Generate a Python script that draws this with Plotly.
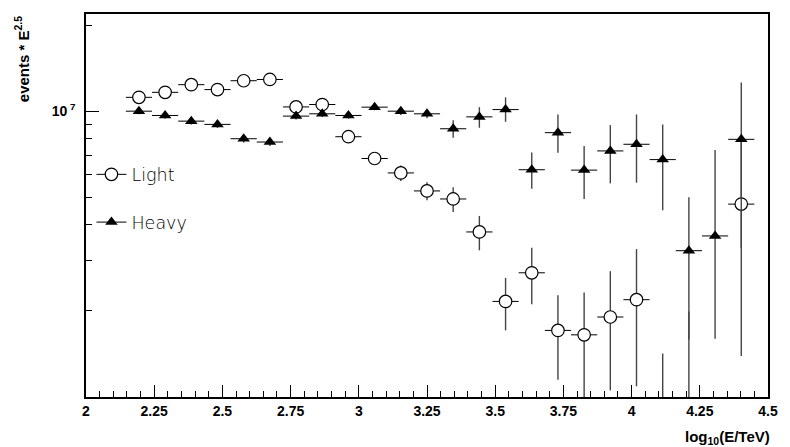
import plotly.graph_objects as go

# bin centres, log10(E/TeV)
x_centers = [2.194, 2.290, 2.386, 2.482, 2.578, 2.674, 2.770, 2.866, 2.962, 3.058, 3.154, 3.250,
             3.346, 3.442, 3.538, 3.634, 3.730, 3.826, 3.922, 4.018, 4.114, 4.210, 4.306, 4.402]
x_halfwidth = [0.048] * 24

# events * E^2.5 (units of 1e6)
light_vals = [11.18, 11.64, 12.38, 11.90, 12.78, 12.91, 10.35, 10.55, 8.14, 6.83, 6.08, 5.26,
              4.93, 3.78, 2.16, 2.72, 1.71, 1.65, 1.905, 2.19, 0.50, 0.60, None, 4.73]
light_err_hi = [0.25, 0.25, 0.25, 0.25, 0.25, 0.25, 0.25, 0.25, 0.30, 0.30, 0.38, 0.38,
                0.49, 0.52, 0.45, 0.61, 0.56, 0.67, 0.85, 1.10, 0.92, 1.39, None, 3.34]
light_err_lo = [0.25, 0.25, 0.25, 0.25, 0.25, 0.25, 0.25, 0.25, 0.30, 0.30, 0.38, 0.38,
                0.49, 0.52, 0.45, 0.61, 0.56, 0.67, 0.85, 1.10, 0.45, 0.55, None, 3.34]

heavy_vals = [10.0, 9.66, 9.23, 8.99, 8.01, 7.80, 9.61, 9.79, 9.66, 10.33, 10.0, 9.79,
              8.68, 9.55, 10.13, 6.24, 8.41, 6.22, 7.26, 7.66, 6.77, 3.25, 3.66, 7.97]
heavy_err_hi = [0.25, 0.25, 0.25, 0.25, 0.25, 0.25, 0.25, 0.25, 0.25, 0.25, 0.30, 0.35,
                0.62, 0.78, 1.05, 0.93, 1.33, 1.34, 1.68, 2.08, 2.22, 1.75, 3.66, 4.64]
heavy_err_lo = [0.25, 0.25, 0.25, 0.25, 0.25, 0.25, 0.25, 0.25, 0.25, 0.25, 0.30, 0.35,
                0.60, 0.80, 0.95, 0.89, 1.25, 1.29, 1.67, 2.04, 2.27, 1.66, 2.06, 4.64]

x_tick_vals = [2.0, 2.25, 2.5, 2.75, 3.0, 3.25, 3.5, 3.75, 4.0, 4.25, 4.5]
x_tick_text = ["2", "2.25", "2.5", "2.75", "3", "3.25", "3.5", "3.75", "4", "4.25", "4.5"]
y_major_vals = [1e7]
y_major_text = ["10<sup> 7</sup>"]
y_minor_vals = [2e6, 3e6, 4e6, 5e6, 6e6, 7e6, 8e6, 9e6, 2e7]

SCALE = 1e6


def scale(v):
    return [None if a is None else a * SCALE for a in v]


fig = go.Figure()

fig.add_trace(go.Scatter(
    x=x_centers, y=scale(light_vals), mode="markers", name="Light", showlegend=False,
    marker=dict(symbol="circle", size=12.5, color="white", line=dict(color="black", width=1.2)),
    error_x=dict(type="data", array=x_halfwidth, color="black", thickness=1, width=0),
    error_y=dict(type="data", symmetric=False, array=scale(light_err_hi), arrayminus=scale(light_err_lo),
                 color="#444444", thickness=1.4, width=0),
))
fig.add_trace(go.Scatter(
    x=x_centers, y=scale(heavy_vals), mode="markers", name="Heavy", showlegend=False,
    marker=dict(symbol="triangle-up", size=11, color="black", line=dict(color="black", width=0)),
    error_x=dict(type="data", array=x_halfwidth, color="black", thickness=1, width=0),
    error_y=dict(type="data", symmetric=False, array=scale(heavy_err_hi), arrayminus=scale(heavy_err_lo),
                 color="#444444", thickness=1.4, width=0),
))

# legend entries
fig.add_trace(go.Scatter(
    x=[None], y=[None], mode="lines+markers", name="Light", legendgroup="a",
    marker=dict(symbol="circle", size=12.5, color="white", line=dict(color="black", width=1.2)),
    line=dict(color="black", width=1),
))
fig.add_trace(go.Scatter(
    x=[None], y=[None], mode="lines+markers", name="Heavy", legendgroup="b",
    marker=dict(symbol="triangle-up", size=11, color="black"),
    line=dict(color="black", width=1),
))

fig.update_layout(
    width=790, height=447,
    margin=dict(l=86, r=18, t=12, b=50),
    paper_bgcolor="white", plot_bgcolor="white",
    font=dict(family="Liberation Sans", color="black"),
    legend=dict(x=0.008, y=0.628, xanchor="left", yanchor="top", bgcolor="rgba(0,0,0,0)",
                font=dict(family="DejaVu Sans", size=17.5, weight=200, color="black"), tracegroupgap=22,
                traceorder="grouped", itemwidth=30),
    xaxis=dict(range=[2, 4.5], tickmode="array", tickvals=x_tick_vals, ticktext=x_tick_text,
               ticks="inside", ticklen=12, tickwidth=1, tickcolor="black",
               minor=dict(dtick=0.05, tick0=2, ticks="inside", ticklen=6, tickcolor="black", tickwidth=1),
               showline=True, linecolor="black", linewidth=1.5, mirror=True,
               showgrid=False, zeroline=False,
               tickfont=dict(family="Liberation Sans", size=14, weight="bold", color="black")),
    yaxis=dict(type="log", range=[6.0, 7.34], tickmode="array", tickvals=y_major_vals, ticktext=y_major_text,
               ticks="inside", ticklen=13, tickwidth=1, tickcolor="black",
               minor=dict(tickmode="array", tickvals=y_minor_vals, ticks="inside", ticklen=6,
                          tickcolor="black", tickwidth=1),
               showline=True, linecolor="black", linewidth=1.5, mirror=True,
               showgrid=False, zeroline=False, ticklabelstandoff=6,
               tickfont=dict(family="Liberation Sans", size=14, weight="bold", color="black")),
    annotations=[
        dict(text="events * E<sup>2.5</sup>", xref="paper", yref="paper", x=-0.095, y=1.0,
             xanchor="center", yanchor="top", textangle=-90, showarrow=False,
             font=dict(family="Liberation Sans", size=15, weight="bold", color="black")),
        dict(text="log<sub>10</sub>(E/TeV)", xref="paper", yref="paper", x=1.006, y=-0.105,
             xanchor="right", yanchor="middle", showarrow=False,
             font=dict(family="Liberation Sans", size=15, weight="bold", color="black")),
    ],
)

fig.write_html("out.html", config={"displayModeBar": False},
               post_script="document.body.style.margin='0';")
